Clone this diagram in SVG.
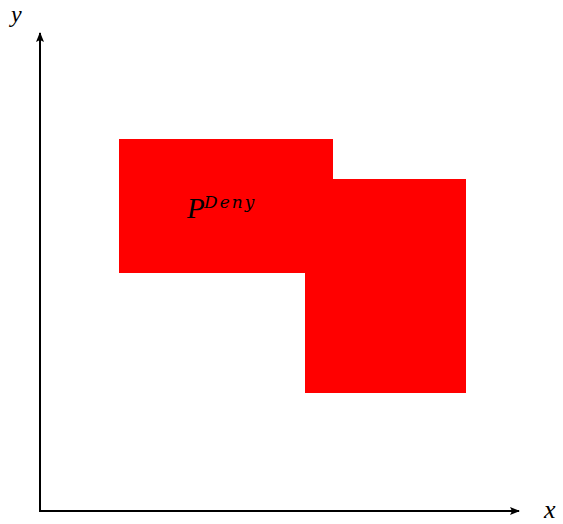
<svg xmlns="http://www.w3.org/2000/svg" width="563" height="524" viewBox="0 0 563 524">
<style>
.lbl{font-family:"Liberation Serif","DejaVu Serif",serif;font-style:italic;fill:#000}
.sup{font-family:"DejaVu Serif","Liberation Serif",serif;font-style:italic;fill:#000}
.region{fill:#ff0000}
</style>
<defs>
<marker id="ah" markerWidth="10" markerHeight="8" refX="9" refY="4" orient="auto" markerUnits="userSpaceOnUse">
<path d="M0,0 L10,4 L0,8 L2,4 Z" fill="#000"/>
</marker>
</defs>
<g id="region-deny">
<rect class="region" x="119" y="139" width="214" height="134"/>
<rect class="region" x="305" y="179" width="161" height="214"/>
<text class="lbl" x="187" y="218" font-size="29">P</text>
<text class="sup" x="204" y="208" font-size="17" letter-spacing="2">Deny</text>
</g>
<g id="connectors" stroke="#000" stroke-width="2" fill="none">
<line x1="40" y1="512" x2="40" y2="33" marker-end="url(#ah)"/>
<line x1="39" y1="511" x2="519" y2="511" marker-end="url(#ah)"/>
</g>
<g id="labels">
<text class="lbl" x="11" y="22" font-size="24">y</text>
<text class="lbl" x="544" y="518" font-size="26">x</text>
</g>
</svg>
